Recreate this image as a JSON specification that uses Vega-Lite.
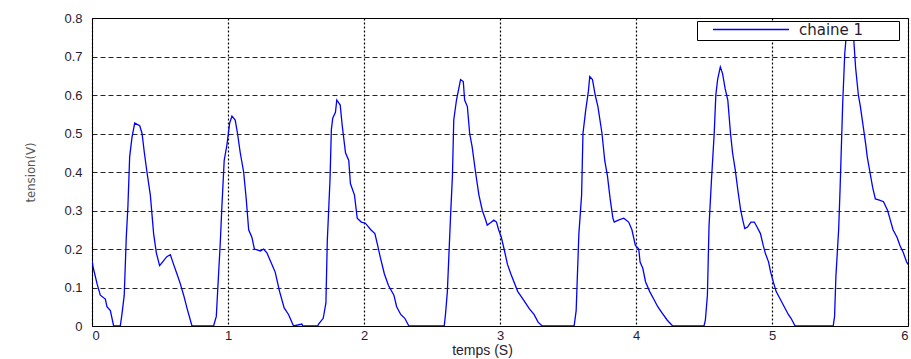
{
  "$schema": "https://vega.github.io/schema/vega-lite/v6.json",
  "width": 816,
  "height": 308,
  "autosize": {"type": "none"},
  "padding": {"left": 92, "top": 18, "right": 3, "bottom": 33},
  "background": "white",
  "config": {
    "view": {"stroke": "#000000", "strokeWidth": 1},
    "font": "Liberation Sans"
  },
  "data": {
    "values": [
      {"t":0,"v":0.17},{"t":0.01,"v":0.15},{"t":0.037,"v":0.11},{"t":0.061,"v":0.08},{"t":0.098,"v":0.07},{"t":0.11,"v":0.05},{"t":0.135,"v":0.04},{"t":0.159,"v":0.0},{"t":0.208,"v":0.0},{"t":0.22,"v":0.03},{"t":0.237,"v":0.08},{"t":0.252,"v":0.23},{"t":0.264,"v":0.31},{"t":0.277,"v":0.44},{"t":0.294,"v":0.49},{"t":0.314,"v":0.527},{"t":0.351,"v":0.52},{"t":0.368,"v":0.5},{"t":0.385,"v":0.45},{"t":0.404,"v":0.4},{"t":0.429,"v":0.34},{"t":0.453,"v":0.24},{"t":0.473,"v":0.19},{"t":0.497,"v":0.157},{"t":0.527,"v":0.17},{"t":0.55,"v":0.18},{"t":0.576,"v":0.185},{"t":0.6,"v":0.16},{"t":0.625,"v":0.135},{"t":0.649,"v":0.11},{"t":0.674,"v":0.08},{"t":0.698,"v":0.047},{"t":0.735,"v":0.0},{"t":0.894,"v":0.0},{"t":0.914,"v":0.025},{"t":0.931,"v":0.137},{"t":0.943,"v":0.215},{"t":0.955,"v":0.31},{"t":0.972,"v":0.43},{"t":0.992,"v":0.47},{"t":1.012,"v":0.527},{"t":1.029,"v":0.545},{"t":1.053,"v":0.535},{"t":1.07,"v":0.5},{"t":1.09,"v":0.45},{"t":1.115,"v":0.4},{"t":1.134,"v":0.33},{"t":1.152,"v":0.25},{"t":1.176,"v":0.23},{"t":1.194,"v":0.2},{"t":1.238,"v":0.195},{"t":1.262,"v":0.2},{"t":1.286,"v":0.19},{"t":1.323,"v":0.16},{"t":1.347,"v":0.14},{"t":1.379,"v":0.09},{"t":1.413,"v":0.047},{"t":1.445,"v":0.03},{"t":1.482,"v":0.0},{"t":1.543,"v":0.005},{"t":1.55,"v":0},{"t":1.66,"v":0},{"t":1.666,"v":0.005},{"t":1.7,"v":0.02},{"t":1.72,"v":0.06},{"t":1.73,"v":0.22},{"t":1.74,"v":0.3},{"t":1.75,"v":0.38},{"t":1.76,"v":0.51},{"t":1.77,"v":0.54},{"t":1.79,"v":0.555},{"t":1.8,"v":0.587},{"t":1.825,"v":0.574},{"t":1.84,"v":0.52},{"t":1.864,"v":0.45},{"t":1.888,"v":0.43},{"t":1.9,"v":0.37},{"t":1.93,"v":0.34},{"t":1.95,"v":0.28},{"t":1.98,"v":0.27},{"t":2.01,"v":0.267},{"t":2.05,"v":0.25},{"t":2.08,"v":0.24},{"t":2.1,"v":0.21},{"t":2.12,"v":0.178},{"t":2.15,"v":0.135},{"t":2.18,"v":0.105},{"t":2.22,"v":0.08},{"t":2.24,"v":0.05},{"t":2.27,"v":0.03},{"t":2.3,"v":0.02},{"t":2.33,"v":0},{"t":2.59,"v":0},{"t":2.6,"v":0.033},{"t":2.613,"v":0.09},{"t":2.625,"v":0.19},{"t":2.637,"v":0.29},{"t":2.65,"v":0.388},{"t":2.66,"v":0.535},{"t":2.68,"v":0.587},{"t":2.695,"v":0.613},{"t":2.71,"v":0.64},{"t":2.73,"v":0.635},{"t":2.74,"v":0.587},{"t":2.76,"v":0.57},{"t":2.777,"v":0.5},{"t":2.795,"v":0.466},{"t":2.82,"v":0.4},{"t":2.845,"v":0.34},{"t":2.87,"v":0.3},{"t":2.894,"v":0.276},{"t":2.906,"v":0.262},{"t":2.93,"v":0.268},{"t":2.955,"v":0.275},{"t":2.974,"v":0.27},{"t":2.99,"v":0.25},{"t":3.01,"v":0.23},{"t":3.03,"v":0.2},{"t":3.055,"v":0.16},{"t":3.08,"v":0.135},{"t":3.13,"v":0.09},{"t":3.18,"v":0.064},{"t":3.215,"v":0.045},{"t":3.25,"v":0.03},{"t":3.28,"v":0.01},{"t":3.31,"v":0},{"t":3.545,"v":0},{"t":3.56,"v":0.04},{"t":3.57,"v":0.14},{"t":3.58,"v":0.24},{"t":3.6,"v":0.34},{"t":3.61,"v":0.5},{"t":3.63,"v":0.56},{"t":3.65,"v":0.61},{"t":3.66,"v":0.648},{"t":3.68,"v":0.64},{"t":3.7,"v":0.6},{"t":3.72,"v":0.57},{"t":3.75,"v":0.5},{"t":3.77,"v":0.43},{"t":3.79,"v":0.39},{"t":3.81,"v":0.33},{"t":3.83,"v":0.28},{"t":3.84,"v":0.27},{"t":3.87,"v":0.275},{"t":3.91,"v":0.28},{"t":3.946,"v":0.27},{"t":3.97,"v":0.25},{"t":3.995,"v":0.21},{"t":4.02,"v":0.2},{"t":4.03,"v":0.166},{"t":4.05,"v":0.15},{"t":4.07,"v":0.115},{"t":4.1,"v":0.09},{"t":4.13,"v":0.07},{"t":4.16,"v":0.05},{"t":4.19,"v":0.035},{"t":4.23,"v":0.015},{"t":4.27,"v":0},{"t":4.5,"v":0},{"t":4.51,"v":0.015},{"t":4.525,"v":0.08},{"t":4.537,"v":0.26},{"t":4.555,"v":0.38},{"t":4.575,"v":0.5},{"t":4.587,"v":0.6},{"t":4.6,"v":0.64},{"t":4.62,"v":0.673},{"t":4.637,"v":0.655},{"t":4.655,"v":0.617},{"t":4.675,"v":0.587},{"t":4.695,"v":0.5},{"t":4.71,"v":0.45},{"t":4.73,"v":0.405},{"t":4.75,"v":0.35},{"t":4.77,"v":0.3},{"t":4.785,"v":0.275},{"t":4.8,"v":0.253},{"t":4.82,"v":0.257},{"t":4.845,"v":0.27},{"t":4.87,"v":0.27},{"t":4.89,"v":0.257},{"t":4.915,"v":0.24},{"t":4.935,"v":0.21},{"t":4.95,"v":0.19},{"t":4.975,"v":0.166},{"t":4.99,"v":0.14},{"t":5.01,"v":0.114},{"t":5.03,"v":0.09},{"t":5.06,"v":0.07},{"t":5.09,"v":0.05},{"t":5.12,"v":0.03},{"t":5.14,"v":0.02},{"t":5.17,"v":0},{"t":5.45,"v":0},{"t":5.46,"v":0.025},{"t":5.47,"v":0.13},{"t":5.49,"v":0.25},{"t":5.5,"v":0.35},{"t":5.52,"v":0.58},{"t":5.535,"v":0.708},{"t":5.55,"v":0.77},{"t":5.57,"v":0.79},{"t":5.585,"v":0.79},{"t":5.6,"v":0.75},{"t":5.615,"v":0.67},{"t":5.635,"v":0.6},{"t":5.65,"v":0.57},{"t":5.67,"v":0.52},{"t":5.69,"v":0.47},{"t":5.7,"v":0.44},{"t":5.72,"v":0.4},{"t":5.74,"v":0.36},{"t":5.76,"v":0.33},{"t":5.79,"v":0.327},{"t":5.82,"v":0.323},{"t":5.85,"v":0.3},{"t":5.87,"v":0.275},{"t":5.89,"v":0.25},{"t":5.92,"v":0.23},{"t":5.94,"v":0.21},{"t":5.966,"v":0.19},{"t":5.99,"v":0.166},{"t":6.0,"v":0.16}
    ]
  },
  "transform": [{"calculate": "'chaine 1'", "as": "serie"}],
  "mark": {"type": "line", "strokeWidth": 1.3, "clip": true},
  "encoding": {
    "x": {
      "field": "t", "type": "quantitative",
      "scale": {"domain": [0, 6], "nice": false, "zero": false},
      "axis": {
        "title": "temps (S)", "titleFont": "Liberation Sans", "titleFontSize": 14, "titleFontWeight": "normal", "titleColor": "#2a1a30",
        "titleX": 390, "titlePadding": 1,
        "values": [0,1,2,3,4,5,6], "format": "d",
        "labelFont": "Liberation Sans", "labelFontSize": 13, "labelColor": "#2a1a30", "labelPadding": 3,
        "domain": true, "domainColor": "#000", "ticks": false,
        "grid": true, "gridColor": "#000", "gridDash": [2, 2], "gridWidth": 1.2, "gridOpacity": 1
      }
    },
    "y": {
      "field": "v", "type": "quantitative",
      "scale": {"domain": [0, 0.8], "nice": false},
      "axis": {
        "title": "tension(V)", "titleFont": "DejaVu Sans Condensed", "titleFontSize": 13, "titleFontWeight": "normal", "titleColor": "#555555",
        "titlePadding": 26,
        "values": [0,0.1,0.2,0.3,0.4,0.5,0.6,0.7,0.8],
        "labelExpr": "datum.value == 0 ? '0' : format(datum.value, '.1f')",
        "labelFont": "Liberation Sans", "labelFontSize": 13, "labelColor": "#2a1a30", "labelPadding": 10,
        "domain": true, "domainColor": "#000", "ticks": false,
        "grid": true, "gridColor": "#000", "gridDash": [5, 3], "gridWidth": 1, "gridOpacity": 0.85
      }
    },
    "color": {
      "field": "serie", "type": "nominal",
      "scale": {"domain": ["chaine 1"], "range": ["#0000ff"]},
      "legend": {
        "title": " ", "titleOrient": "right", "titlePadding": 34, "titleFontSize": 13,
        "orient": "none", "legendX": 605, "legendY": 3,
        "symbolType": "stroke", "symbolSize": 5776, "symbolStrokeWidth": 1.5, "symbolStrokeColor": "#0000ff", "symbolOffset": 13,
        "clipHeight": 13,
        "labelFont": "DejaVu Sans", "labelFontSize": 15, "labelColor": "#2a1a30", "labelOffset": 9,
        "padding": 2, "strokeColor": "#000", "fillColor": "#ffffff"
      }
    }
  }
}
